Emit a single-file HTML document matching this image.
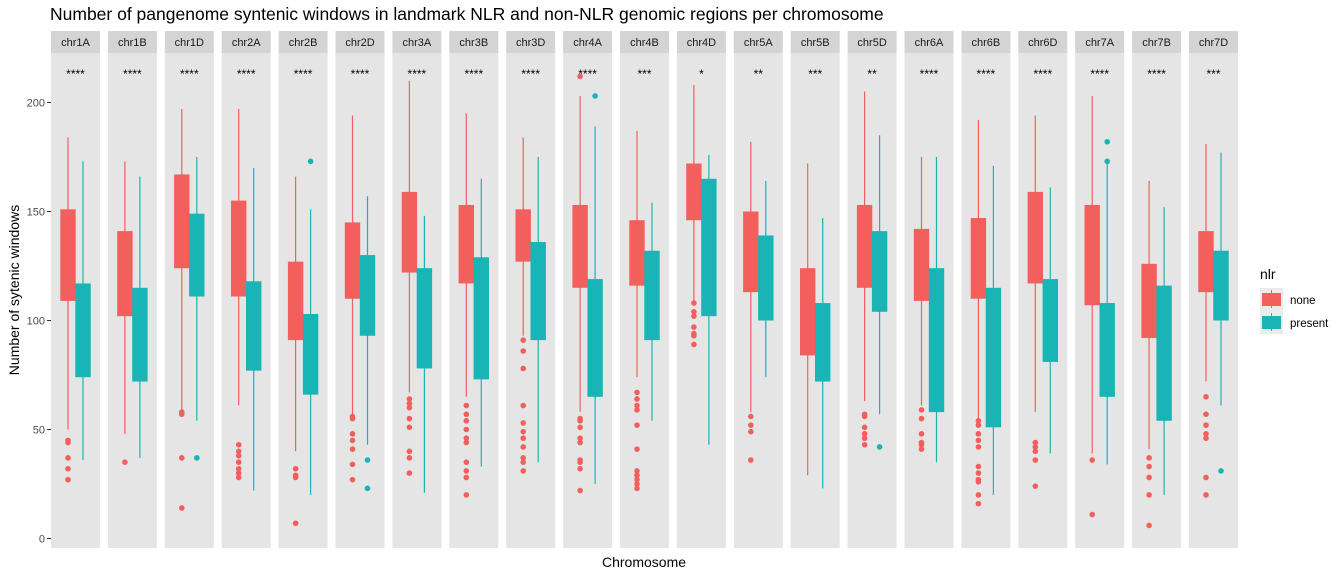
<!DOCTYPE html>
<html><head><meta charset="utf-8">
<style>
html,body{margin:0;padding:0;background:#fff;}
svg{display:block;font-family:"Liberation Sans",Arial,sans-serif;}
</style></head>
<body>
<svg id="chart" width="1344" height="576" viewBox="0 0 1344 576" xmlns="http://www.w3.org/2000/svg">
<text x="50" y="20" font-size="17.5" fill="#000">Number of pangenome syntenic windows in landmark NLR and non-NLR genomic regions per chromosome</text>
<g id="panels"></g>
<g id="yaxis"></g>
<text transform="translate(19,290) rotate(-90)" text-anchor="middle" font-size="14" fill="#000">Number of sytenic windows</text>
<text x="644" y="567" text-anchor="middle" font-size="14" fill="#000">Chromosome</text>
<g>
<text x="1260" y="279" font-size="14" fill="#000">nlr</text>
<rect x="1260" y="288" width="23" height="46" fill="#ebebeb"/>
<g>
<line x1="1271.5" y1="290" x2="1271.5" y2="308" stroke="#F35F5C"/>
<rect x="1262" y="293" width="19" height="13" fill="#F35F5C"/>
<text x="1290" y="304" font-size="11.5" fill="#000">none</text>
</g>
<g>
<line x1="1271.5" y1="313" x2="1271.5" y2="331" stroke="#18B4B6"/>
<rect x="1262" y="316" width="19" height="13" fill="#18B4B6"/>
<text x="1290" y="327" font-size="11.5" fill="#000">present</text>
</g>
</g>
</svg>
<script>
const categories=["chr1A","chr1B","chr1D","chr2A","chr2B","chr2D","chr3A","chr3B","chr3D","chr4A","chr4B","chr4D","chr5A","chr5B","chr5D","chr6A","chr6B","chr6D","chr7A","chr7B","chr7D"];
const significance=["****","****","****","****","****","****","****","****","****","****","***","*","**","***","**","****","****","****","****","****","***"];
// none series: [whiskerLow, q1, q3, whiskerHigh]
const noneStats=[[50,109,151,184],[48,102,141,173],[57,124,167,197],[61,111,155,197],[40,91,127,166],[57,110,145,194],[67,122,159,210],[65,117,153,195],[93,127,151,184],[58,115,153,203],[74,116,146,187],[109,146,172,208],[58,113,150,182],[29,84,124,172],[63,115,153,205],[61,109,142,175],[55,110,147,192],[58,117,159,194],[39,107,153,203],[41,92,126,164],[72,113,141,181]];
const noneOutliers=[[45,44,37,32,27],[35],[58,57,37,14],[43,40,38,35,32,30,28],[32,29,28,7],[56,55,48,45,41,34,27],[64,62,60,55,51,40,37,30],[61,57,54,50,46,44,35,31,28,20],[91,86,78,61,53,49,46,42,37,35,31],[212,55,54,51,46,44,36,35,32,22],[67,64,61,59,52,41,31,29,27,25,23],[108,104,102,97,94,93,89],[56,52,49,36],[],[57,56,51,48,46,43],[59,55,48,44,43,41],[54,52,48,45,42,33,30,27,26,20,16],[44,42,40,36,24],[36,11],[37,33,28,20,6],[65,57,52,48,46,28,20]];
// present series
const presentStats=[[36,74,117,173],[37,72,115,166],[54,111,149,175],[22,77,118,170],[20,66,103,151],[43,93,130,157],[21,78,124,148],[33,73,129,165],[35,91,136,175],[25,65,119,189],[54,91,132,154],[43,102,165,176],[74,100,139,164],[23,72,108,147],[57,104,141,185],[35,58,124,175],[20,51,115,171],[39,81,119,161],[34,65,108,172],[20,54,116,152],[61,100,132,177]];
const presentOutliers=[[],[],[37],[],[173],[36,23],[],[],[],[203],[],[],[],[],[42],[],[],[],[182,173],[],[31]];
const yTicks=[0,50,100,150,200];

const NS="http://www.w3.org/2000/svg";
const Y0=538.5, K=2.18;
function yScale(v){return Y0-v*K;}
function panelX(i){return 51+i*56.9;}
const PW=49, TOP=53, BOT=548;
function mk(tag,attrs,parent){const e=document.createElementNS(NS,tag);for(const k in attrs)e.setAttribute(k,attrs[k]);parent.appendChild(e);return e;}
const panels=document.getElementById('panels');
const COL={none:"#F35F5C",present:"#18B4B6"};
categories.forEach((c,i)=>{
  const x0=panelX(i), cx=x0+PW/2;
  const g=mk('g',{},panels);
  
  
  const strip=mk('rect',{x:x0,y:31,width:PW,height:22,fill:"#d4d4d4"},g);
  
  
  const st=mk('text',{x:cx,y:46,'text-anchor':'middle','font-size':11,fill:'#1a1a1a'},g);
  st.textContent=c;
  
  
  const bg=mk('rect',{x:x0,y:TOP,width:PW,height:BOT-TOP,fill:"#e5e5e5"},g);
  
  
  const sig=mk('text',{x:cx,y:78,'text-anchor':'middle','font-size':12,fill:'#000'},g);
  sig.textContent=significance[i];
  
  
  [["none",noneStats[i],noneOutliers[i],cx-7.5],["present",presentStats[i],presentOutliers[i],cx+7.5]].forEach(([s,st4,outs,bx])=>{
    const bg2=mk('g',{},g);
    
    
    mk('line',{x1:bx,x2:bx,y1:yScale(st4[0]),y2:yScale(st4[3]),stroke:COL[s],'stroke-width':1.2},bg2);
    mk('rect',{x:bx-7.7,y:yScale(st4[2]),width:15.4,height:yScale(st4[1])-yScale(st4[2]),fill:COL[s]},bg2);
    outs.forEach(v=>{
      const p=mk('circle',{cx:bx,cy:yScale(v),r:2.8,fill:COL[s]},bg2);
      
      
    });
  });
});
const ya=document.getElementById('yaxis');
yTicks.forEach(t=>{
  const y=yScale(t);
  const l=mk('line',{x1:47,x2:51,y1:y,y2:y,stroke:'#333','stroke-width':1},ya);
  
  
  const tx=mk('text',{x:45,y:y+4,'text-anchor':'end','font-size':11,fill:'#4d4d4d'},ya);
  tx.textContent=t;
  
  
});
</script>
</body></html>
